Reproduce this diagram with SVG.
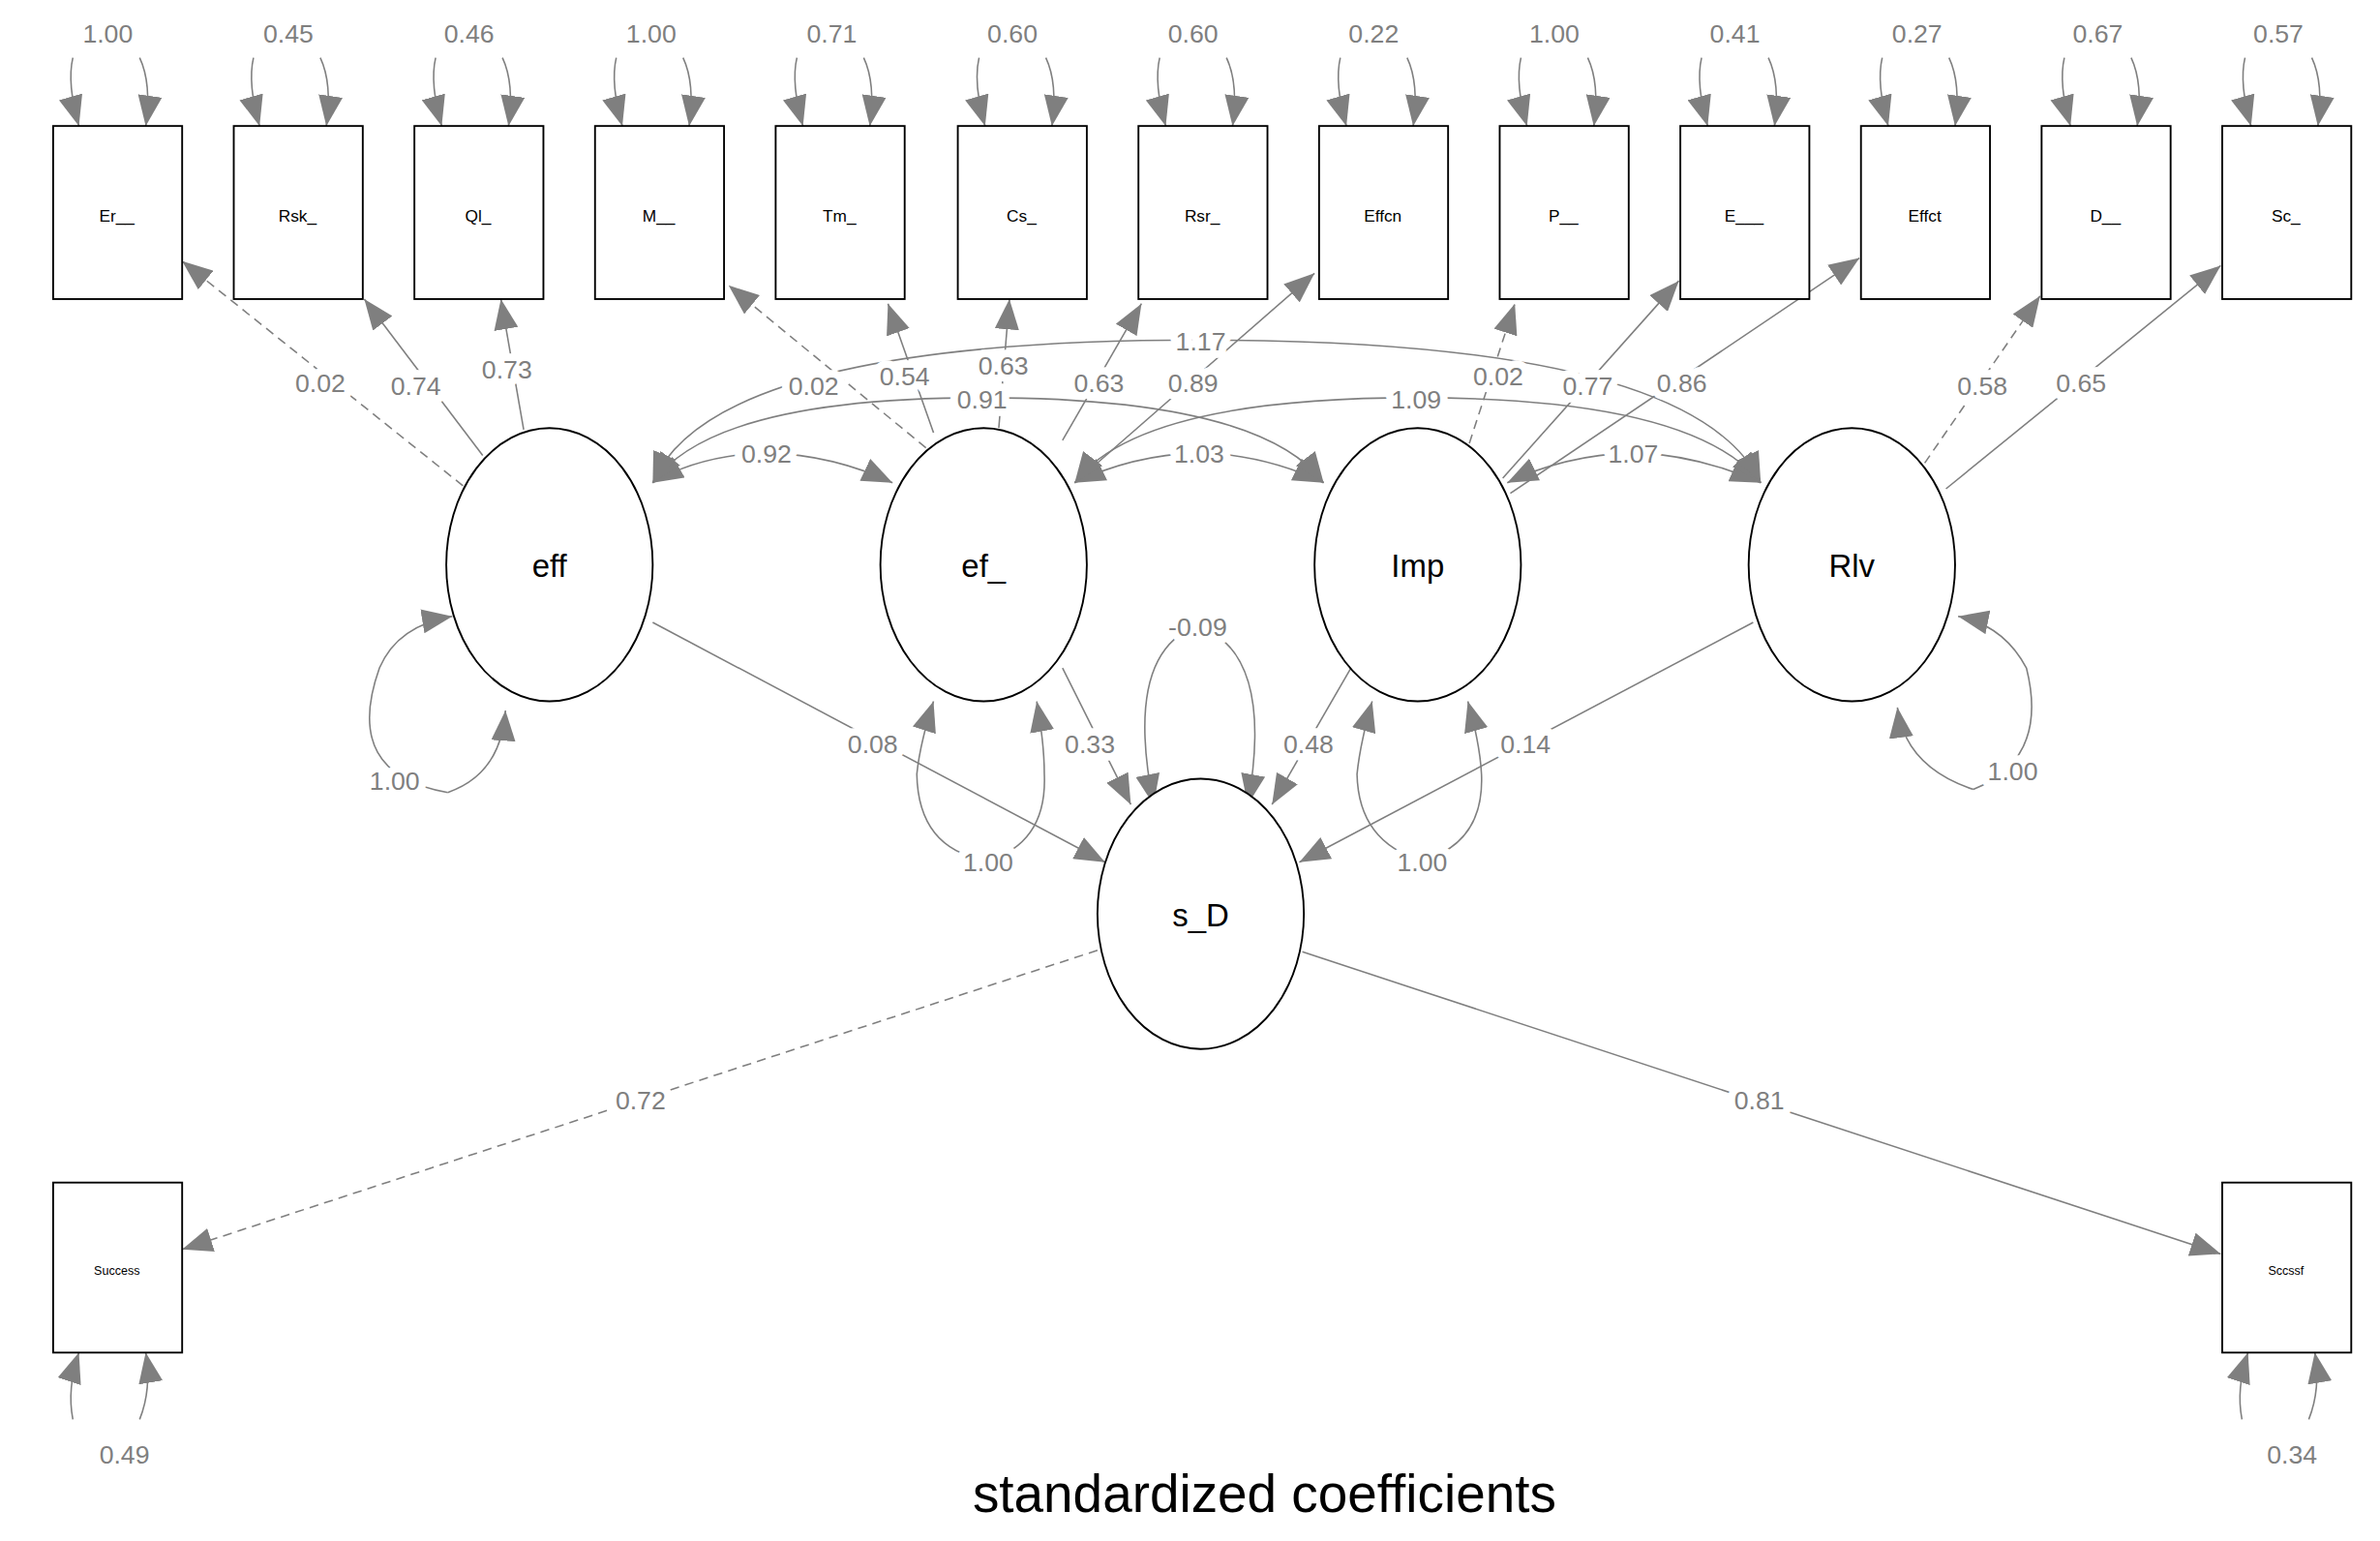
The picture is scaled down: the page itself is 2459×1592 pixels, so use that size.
<svg xmlns="http://www.w3.org/2000/svg" width="2459" height="1592" viewBox="0 0 2459 1592">
<defs>
<marker id="ah" markerUnits="userSpaceOnUse" markerWidth="20" markerHeight="16" refX="20" refY="8" orient="auto"><path d="M0,0 L20,8 L0,16 z" fill="#7f7f7f"/></marker>
<style>
.e{stroke:#7f7f7f;stroke-width:1;fill:none;marker-end:url(#ah)}
.d{stroke-dasharray:6,4}
.lb{font-family:"Liberation Sans",Arial,sans-serif;font-size:17px;fill:#7f7f7f;text-anchor:middle;stroke:#fff;stroke-width:10px;stroke-linejoin:round;paint-order:stroke}
.bx{fill:#fff;stroke:#000;stroke-width:1.2}
.bt{font-family:"Liberation Sans",Arial,sans-serif;font-size:11px;fill:#000;text-anchor:middle}
.nt{font-family:"Liberation Sans",Arial,sans-serif;font-size:21px;fill:#000;text-anchor:middle}
</style>
</defs>
<rect width="2459" height="1592" fill="#fff"/>
<g transform="scale(1.5683)">
<g id="connectors">
<path class="e" d="M48,38 Q44,55 52,83"/><path class="e" d="M92,38 Q100,55 96,83"/>
<path class="e" d="M167,38 Q163,55 171,83"/><path class="e" d="M211,38 Q219,55 215,83"/>
<path class="e" d="M287,38 Q283,55 291,83"/><path class="e" d="M331,38 Q339,55 335,83"/>
<path class="e" d="M406,38 Q402,55 410,83"/><path class="e" d="M450,38 Q458,55 454,83"/>
<path class="e" d="M525,38 Q521,55 529,83"/><path class="e" d="M569,38 Q577,55 573,83"/>
<path class="e" d="M645,38 Q641,55 649,83"/><path class="e" d="M689,38 Q697,55 693,83"/>
<path class="e" d="M764,38 Q760,55 768,83"/><path class="e" d="M808,38 Q816,55 812,83"/>
<path class="e" d="M883,38 Q879,55 887,83"/><path class="e" d="M927,38 Q935,55 931,83"/>
<path class="e" d="M1002,38 Q998,55 1006,83"/><path class="e" d="M1046,38 Q1054,55 1050,83"/>
<path class="e" d="M1121,38 Q1117,55 1125,83"/><path class="e" d="M1165,38 Q1173,55 1169,83"/>
<path class="e" d="M1240,38 Q1236,55 1244,83"/><path class="e" d="M1284,38 Q1292,55 1288,83"/>
<path class="e" d="M1360,38 Q1356,55 1364,83"/><path class="e" d="M1404,38 Q1412,55 1408,83"/>
<path class="e" d="M1479,38 Q1475,55 1483,83"/><path class="e" d="M1523,38 Q1531,55 1527,83"/>
<path class="e" d="M48,935 Q44,915 52,891"/><path class="e" d="M92,935 Q100,915 96,891"/>
<path class="e" d="M1477,935 Q1473,915 1481,891"/><path class="e" d="M1521,935 Q1529,915 1525,891"/>
<path class="e d" d="M305,320 L120,172"/>
<path class="e" d="M318,300 L240,197"/>
<path class="e" d="M345,283 L330,197"/>
<path class="e d" d="M610,295 L480,188"/>
<path class="e" d="M615,285 L585,200"/>
<path class="e" d="M658,282 L665,197"/>
<path class="e" d="M700,290 L752,200"/>
<path class="e" d="M708,318 L866,180"/>
<path class="e d" d="M968,292 L998,200"/>
<path class="e" d="M990,315 L1106,185"/>
<path class="e" d="M995,325 L1225,170"/>
<path class="e d" d="M1268,305 L1344,195"/>
<path class="e" d="M1282,322 L1463,175"/>
<path class="e" d="M505,298 Q460,300 430,318"/><path class="e" d="M505,298 Q550,300 588,318"/>
<path class="e" d="M790,298 Q745,300 708,318"/><path class="e" d="M790,298 Q835,300 872,318"/>
<path class="e" d="M1076,298 Q1030,300 993,318"/><path class="e" d="M1076,298 Q1120,300 1160,318"/>
<path class="e" d="M647,262 Q470,262 430,318"/><path class="e" d="M647,262 Q830,262 872,318"/>
<path class="e" d="M933,262 Q750,262 708,318"/><path class="e" d="M933,262 Q1115,262 1160,318"/>
<path class="e" d="M791,224 Q470,224 430,318"/><path class="e" d="M791,224 Q1115,224 1160,318"/>
<path class="e" d="M295,522 Q225,510 250,440 Q262,412 298,406"/>
<path class="e" d="M295,522 Q330,510 333,468"/>
<path class="e" d="M1300,520 Q1350,500 1335,440 Q1320,412 1290,406"/>
<path class="e" d="M1300,520 Q1255,505 1250,466"/>
<path class="e" d="M651,567 Q605,560 604,510 Q606,490 615,462"/>
<path class="e" d="M651,567 Q690,555 688,510 Q688,490 683,462"/>
<path class="e" d="M937,567 Q895,555 894,510 Q896,490 904,462"/>
<path class="e" d="M937,567 Q978,555 976,510 Q975,490 967,462"/>
<path class="e" d="M789,412 Q740,430 760,530"/>
<path class="e" d="M789,412 Q840,430 822,530"/>
<path class="e" d="M430,410 L728,568"/>
<path class="e" d="M700,440 L745,530"/>
<path class="e" d="M890,440 L838,530"/>
<path class="e" d="M1155,410 L856,568"/>
<path class="e d" d="M723,626 L120,823"/>
<path class="e" d="M858,627 L1463,826"/>
</g>
<g id="labels">
<text class="lb" x="71" y="28">1.00</text><text class="lb" x="190" y="28">0.45</text><text class="lb" x="309" y="28">0.46</text><text class="lb" x="429" y="28">1.00</text><text class="lb" x="548" y="28">0.71</text><text class="lb" x="667" y="28">0.60</text><text class="lb" x="786" y="28">0.60</text><text class="lb" x="905" y="28">0.22</text><text class="lb" x="1024" y="28">1.00</text><text class="lb" x="1143" y="28">0.41</text><text class="lb" x="1263" y="28">0.27</text><text class="lb" x="1382" y="28">0.67</text><text class="lb" x="1501" y="28">0.57</text>
<text class="lb" x="211" y="258">0.02</text><text class="lb" x="274" y="260">0.74</text><text class="lb" x="334" y="249">0.73</text>
<text class="lb" x="536" y="260">0.02</text><text class="lb" x="596" y="254">0.54</text><text class="lb" x="661" y="247">0.63</text><text class="lb" x="724" y="258">0.63</text><text class="lb" x="786" y="258">0.89</text>
<text class="lb" x="791" y="231">1.17</text><text class="lb" x="647" y="269">0.91</text><text class="lb" x="933" y="269">1.09</text>
<text class="lb" x="987" y="254">0.02</text><text class="lb" x="1046" y="260">0.77</text><text class="lb" x="1108" y="258">0.86</text>
<text class="lb" x="1306" y="260">0.58</text><text class="lb" x="1371" y="258">0.65</text>
<text class="lb" x="505" y="305">0.92</text><text class="lb" x="790" y="305">1.03</text><text class="lb" x="1076" y="305">1.07</text>
<text class="lb" x="789" y="419">-0.09</text>
<text class="lb" x="575" y="496">0.08</text><text class="lb" x="718" y="496">0.33</text><text class="lb" x="862" y="496">0.48</text><text class="lb" x="1005" y="496">0.14</text>
<text class="lb" x="260" y="520">1.00</text><text class="lb" x="651" y="574">1.00</text><text class="lb" x="937" y="574">1.00</text><text class="lb" x="1326" y="514">1.00</text>
<text class="lb" x="422" y="731">0.72</text><text class="lb" x="1159" y="731">0.81</text>
<text class="lb" x="82" y="964">0.49</text><text class="lb" x="1510" y="964">0.34</text>
</g>
<g id="n_Er"><rect class="bx" x="35" y="83" width="85" height="114"/><text class="bt" x="77" y="146">Er__</text></g>
<g id="n_Rsk"><rect class="bx" x="154" y="83" width="85" height="114"/><text class="bt" x="196" y="146">Rsk_</text></g>
<g id="n_Ql"><rect class="bx" x="273" y="83" width="85" height="114"/><text class="bt" x="315" y="146">Ql_</text></g>
<g id="n_M"><rect class="bx" x="392" y="83" width="85" height="114"/><text class="bt" x="434" y="146">M__</text></g>
<g id="n_Tm"><rect class="bx" x="511" y="83" width="85" height="114"/><text class="bt" x="553" y="146">Tm_</text></g>
<g id="n_Cs"><rect class="bx" x="631" y="83" width="85" height="114"/><text class="bt" x="673" y="146">Cs_</text></g>
<g id="n_Rsr"><rect class="bx" x="750" y="83" width="85" height="114"/><text class="bt" x="792" y="146">Rsr_</text></g>
<g id="n_Effcn"><rect class="bx" x="869" y="83" width="85" height="114"/><text class="bt" x="911" y="146">Effcn</text></g>
<g id="n_P"><rect class="bx" x="988" y="83" width="85" height="114"/><text class="bt" x="1030" y="146">P__</text></g>
<g id="n_E"><rect class="bx" x="1107" y="83" width="85" height="114"/><text class="bt" x="1149" y="146">E___</text></g>
<g id="n_Effct"><rect class="bx" x="1226" y="83" width="85" height="114"/><text class="bt" x="1268" y="146">Effct</text></g>
<g id="n_D"><rect class="bx" x="1345" y="83" width="85" height="114"/><text class="bt" x="1387" y="146">D__</text></g>
<g id="n_Sc"><rect class="bx" x="1464" y="83" width="85" height="114"/><text class="bt" x="1506" y="146">Sc_</text></g>
<g id="n_eff"><ellipse cx="362" cy="372" rx="68" ry="90" fill="#fff" stroke="#000" stroke-width="1.2"/><text class="nt" x="362" y="380">eff</text></g>
<g id="n_ef"><ellipse cx="648" cy="372" rx="68" ry="90" fill="#fff" stroke="#000" stroke-width="1.2"/><text class="nt" x="648" y="380">ef_</text></g>
<g id="n_Imp"><ellipse cx="934" cy="372" rx="68" ry="90" fill="#fff" stroke="#000" stroke-width="1.2"/><text class="nt" x="934" y="380">Imp</text></g>
<g id="n_Rlv"><ellipse cx="1220" cy="372" rx="68" ry="90" fill="#fff" stroke="#000" stroke-width="1.2"/><text class="nt" x="1220" y="380">Rlv</text></g>
<g id="n_sD"><ellipse cx="791" cy="602" rx="68" ry="89" fill="#fff" stroke="#000" stroke-width="1.2"/><text class="nt" x="791" y="610">s_D</text></g>
<g id="n_Success"><rect class="bx" x="35" y="779" width="85" height="112"/><text class="bt" x="77" y="840" style="font-size:8px">Success</text></g>
<g id="n_Sccssf"><rect class="bx" x="1464" y="779" width="85" height="112"/><text class="bt" x="1506" y="840" style="font-size:8px">Sccssf</text></g>
<text x="833" y="996" style="font-family:'Liberation Sans',Arial,sans-serif;font-size:35px;fill:#000;text-anchor:middle">standardized coefficients</text>
</g>
</svg>
